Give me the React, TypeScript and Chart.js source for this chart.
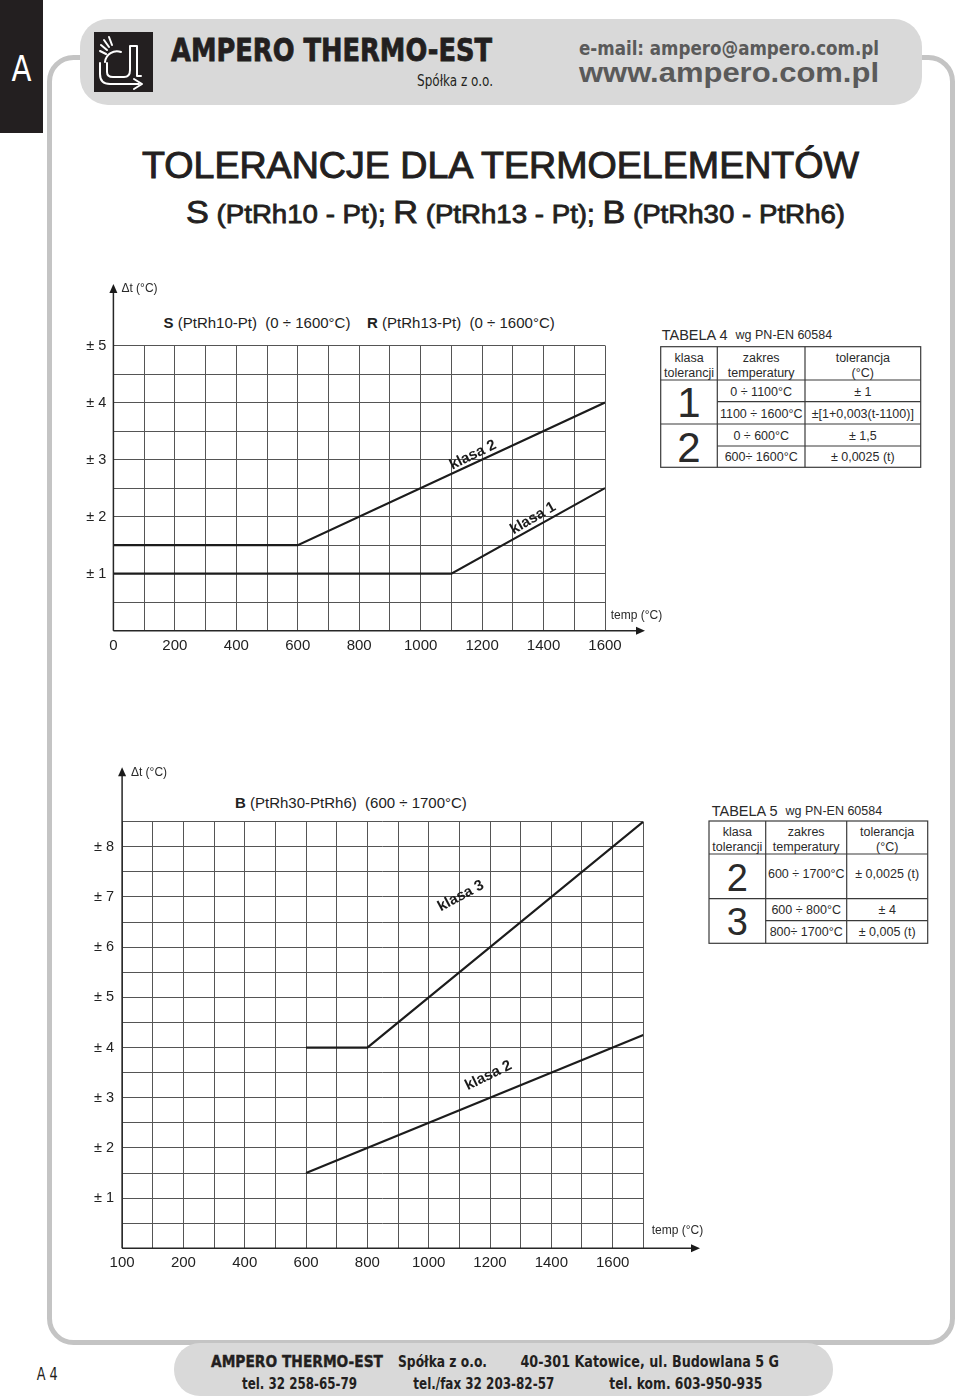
import React, { useEffect, useRef } from 'react';
import { Chart, registerables } from 'chart.js';

Chart.register(...registerables);

const FONT = '"Liberation Sans", Arial, Helvetica, sans-serif';
const NARROW = '"Liberation Sans Narrow", "Arial Narrow", "DejaVu Sans Condensed", "Liberation Sans", sans-serif';
const HEAVY = '"DejaVu Sans", "Liberation Sans", sans-serif';

// ---------- Chart 1: S (PtRh10-Pt), R (PtRh13-Pt) ----------
const srTempClass1 = [0, 1100, 1600];
const srTolClass1 = [1, 1, 2.5];
const srTempClass2 = [0, 600, 1600];
const srTolClass2 = [1.5, 1.5, 4];
const srXLabelValues = [0, 200, 400, 600, 800, 1000, 1200, 1400, 1600];
const srXLabels = ['0', '200', '400', '600', '800', '1000', '1200', '1400', '1600'];
const srYLabelValues = [1, 2, 3, 4, 5];
const srYLabels = ['± 1', '± 2', '± 3', '± 4', '± 5'];
const srCurveNames = ['klasa 2', 'klasa 1'];
const srCurveNameTemps = [1170, 1366];
const srCurveNameTols = [3.08, 1.97];

// ---------- Chart 2: B (PtRh30-PtRh6) ----------
const bTempClass3 = [600, 800, 1700];
const bTolClass3 = [4, 4, 8.5];
const bTempClass2 = [600, 1700];
const bTolClass2 = [1.5, 4.25];
const bXLabelValues = [0, 200, 400, 600, 800, 1000, 1200, 1400, 1600];
const bXLabels = ['100', '200', '400', '600', '800', '1000', '1200', '1400', '1600'];
const bYLabelValues = [1, 2, 3, 4, 5, 6, 7, 8];
const bYLabels = ['± 1', '± 2', '± 3', '± 4', '± 5', '± 6', '± 7', '± 8'];
const bCurveNames = ['klasa 3', 'klasa 2'];
const bCurveNameTemps = [1105, 1195];
const bCurveNameTols = [7.02, 3.44];

const decorPlugin = {
  id: 'decor',
  afterDraw(chart: any, _args: any, opts: any) {
    const { ctx, chartArea } = chart;
    const { left, right, top, bottom } = chartArea;
    const xs = chart.scales.x;
    const ys = chart.scales.y;
    ctx.save();
    ctx.strokeStyle = '#262626';
    ctx.lineWidth = 1.5;
    const tipX = right + opts.xExtend;
    const tipY = top - opts.yExtend;
    ctx.beginPath();
    ctx.moveTo(left, bottom);
    ctx.lineTo(tipX - 6, bottom);
    ctx.moveTo(left, bottom);
    ctx.lineTo(left, tipY + 6);
    ctx.stroke();
    ctx.fillStyle = '#1a1a1a';
    ctx.beginPath();
    ctx.moveTo(tipX, bottom);
    ctx.lineTo(tipX - 9, bottom - 4);
    ctx.lineTo(tipX - 9, bottom + 4);
    ctx.closePath();
    ctx.fill();
    ctx.beginPath();
    ctx.moveTo(left, tipY);
    ctx.lineTo(left - 4, tipY + 9);
    ctx.lineTo(left + 4, tipY + 9);
    ctx.closePath();
    ctx.fill();

    ctx.fillStyle = '#2a2a2a';
    ctx.font = '12px ' + FONT;
    ctx.textBaseline = 'middle';
    ctx.textAlign = 'left';
    ctx.fillText(opts.yTitle, left + opts.yTitleDx, tipY + opts.yTitleDy);
    ctx.fillText(opts.xTitle, right + opts.xTitleDx, bottom + opts.xTitleDy);

    ctx.font = 'bold 15px ' + FONT;
    ctx.textAlign = 'center';
    ctx.fillStyle = '#1a1a1a';
    opts.names.forEach((n: string, i: number) => {
      const px = xs.getPixelForValue(opts.nameTemps[i]);
      const py = ys.getPixelForValue(opts.nameTols[i]);
      ctx.save();
      ctx.translate(px, py);
      ctx.rotate((opts.nameAngles[i] * Math.PI) / 180);
      ctx.fillText(n, 0, 0);
      ctx.restore();
    });
    ctx.restore();
  },
};

function buildChart(canvas: HTMLCanvasElement, cfg: any) {
  return new Chart(canvas, {
    type: 'line',
    data: {
      datasets: cfg.series.map((s: any) => ({
        data: s.temps.map((t: number, i: number) => ({ x: t, y: s.tols[i] })),
        borderColor: '#1c1c1c',
        borderWidth: 2.2,
        pointRadius: 0,
        tension: 0,
        fill: false,
      })),
    },
    options: {
      responsive: false,
      animation: false,
      devicePixelRatio: 1,
      events: [],
      layout: { autoPadding: false, padding: cfg.padding },
      plugins: {
        legend: { display: false },
        tooltip: { enabled: false },
        title: { display: false },
        decor: cfg.decor,
      } as any,
      scales: {
        x: {
          type: 'linear',
          min: 0,
          max: cfg.xMax,
          afterFit: (s: any) => {
            s.height = cfg.xHeight;
            s.paddingLeft = 0;
            s.paddingRight = 0;
          },
          ticks: {
            stepSize: 100,
            autoSkip: false,
            maxRotation: 0,
            padding: 6,
            color: '#222',
            font: { family: FONT, size: 15 },
            callback: (v: any) => {
              const i = cfg.xLabelValues.indexOf(Number(v));
              return i >= 0 ? cfg.xLabels[i] : '';
            },
          },
          grid: { color: '#555', lineWidth: 1, drawTicks: false },
          border: { display: false },
        },
        y: {
          type: 'linear',
          min: 0,
          max: cfg.yMax,
          afterFit: (s: any) => {
            s.width = cfg.yWidth;
            s.paddingTop = 0;
            s.paddingBottom = 0;
          },
          ticks: {
            stepSize: 0.5,
            autoSkip: false,
            padding: cfg.yPad,
            color: '#222',
            font: { family: FONT, size: 14.5 },
            callback: (v: any) => {
              const i = cfg.yLabelValues.indexOf(Number(v));
              return i >= 0 ? cfg.yLabels[i] : '';
            },
          },
          grid: { color: '#555', lineWidth: 1, drawTicks: false },
          border: { display: false },
        },
      },
    } as any,
    plugins: [decorPlugin as any],
  });
}

const cellText = { fontFamily: FONT, fontSize: 12.5, fill: '#2a2a2a', textAnchor: 'middle' as const, dominantBaseline: 'central' as const };

export default function App() {
  const c1 = useRef<HTMLCanvasElement>(null);
  const c2 = useRef<HTMLCanvasElement>(null);

  useEffect(() => {
    const ch1 = buildChart(c1.current!, {
      series: [
        { temps: srTempClass1, tols: srTolClass1 },
        { temps: srTempClass2, tols: srTolClass2 },
      ],
      xMax: 1600,
      yMax: 5,
      padding: { left: 0, top: 75.5, right: 65, bottom: 0 },
      xHeight: 39.3,
      yWidth: 53.4,
      yPad: 7,
      xLabelValues: srXLabelValues,
      xLabels: srXLabels,
      yLabelValues: srYLabelValues,
      yLabels: srYLabels,
      decor: {
        xExtend: 40,
        yExtend: 61.5,
        yTitle: 'Δt (°C)',
        xTitle: 'temp (°C)',
        yTitleDx: 8,
        yTitleDy: 4.5,
        xTitleDx: 5.7,
        xTitleDy: -14.7,
        names: srCurveNames,
        nameTemps: srCurveNameTemps,
        nameTols: srCurveNameTols,
        nameAngles: [-26, -30],
      },
    });
    const ch2 = buildChart(c2.current!, {
      series: [
        { temps: bTempClass3, tols: bTolClass3 },
        { temps: bTempClass2, tols: bTolClass2 },
      ],
      xMax: 1700,
      yMax: 8.5,
      padding: { left: 0, top: 61.7, right: 66.7, bottom: 0 },
      xHeight: 31.7,
      yWidth: 52.1,
      yPad: 8,
      xLabelValues: bXLabelValues,
      xLabels: bXLabels,
      yLabelValues: bYLabelValues,
      yLabels: bYLabels,
      decor: {
        xExtend: 56.7,
        yExtend: 54.4,
        yTitle: 'Δt (°C)',
        xTitle: 'temp (°C)',
        yTitleDx: 8.8,
        yTitleDy: 5.4,
        xTitleDx: 8.4,
        xTitleDy: -17.6,
        names: bCurveNames,
        nameTemps: bCurveNameTemps,
        nameTols: bCurveNameTols,
        nameAngles: [-28, -26],
      },
    });
    return () => {
      ch1.destroy();
      ch2.destroy();
    };
  }, []);

  return (
    <div style={{ position: 'absolute', left: 0, top: 0, width: 960, height: 1396, background: '#fff', overflow: 'hidden' }}>
      <svg width={960} height={1396} style={{ position: 'absolute', left: 0, top: 0 }}>
        {/* page frame */}
        <rect x={49.5} y={57.5} width={903} height={1285} rx={24} fill="none" stroke="#c4c4c4" strokeWidth={5} />
        {/* side tab */}
        <rect x={0} y={0} width={43} height={133} fill="#231f20" />
        <text x={21.5} y={81} fill="#fff" fontFamily={NARROW} fontSize={36} textAnchor="middle" textLength={20} lengthAdjust="spacingAndGlyphs">A</text>

        {/* header bar */}
        <rect x={80} y={19} width={842} height={86} rx={28} fill="#d9d9d9" />
        <rect x={94} y={32} width={59} height={60} fill="#231f20" />
        <g stroke="#fff" strokeWidth={2} fill="none" strokeLinecap="round" strokeLinejoin="round">
          <line x1={101} y1={45} x2={107} y2={50} />
          <line x1={104} y1={40} x2={109} y2={47} />
          <line x1={109} y1={37} x2={112} y2={45} />
          <line x1={100} y1={51} x2={106} y2={54} />
          <path d="M105 62 A 12 12 0 0 1 121 52" />
          <path d="M100 63 L100 74 Q100 84 110 84 L139 84" />
          <path d="M134 79 L142 84 L134 89" />
          <path d="M107 63 L107 72 Q107 77 113 77 L124 77 Q130 77 130 70 L130 46 L137 46 L137 76 L141 76" />
        </g>
        <text x={171} y={61} fontFamily={HEAVY} fontWeight="bold" fontSize={32} fill="#231f20" stroke="#231f20" strokeWidth={0.8}
          textLength={321} lengthAdjust="spacingAndGlyphs">AMPERO THERMO-EST</text>
        <text x={417} y={85.5} fontFamily={NARROW} fontSize={15} fill="#231f20" textLength={76} lengthAdjust="spacingAndGlyphs">Spółka z o.o.</text>
        <text x={579} y={54.5} fontFamily={NARROW} fontWeight="bold" fontSize={20} fill="#5a5a5a" textLength={300} lengthAdjust="spacingAndGlyphs">e-mail: ampero@ampero.com.pl</text>
        <text x={579} y={81.5} fontFamily={FONT} fontWeight="bold" fontSize={28} fill="#5a5a5a" textLength={300} lengthAdjust="spacingAndGlyphs">www.ampero.com.pl</text>

        {/* main title */}
        <text x={142} y={178} fontFamily={FONT} fontSize={37} fill="#231f20" stroke="#231f20" strokeWidth={1}
          textLength={717} lengthAdjust="spacingAndGlyphs">TOLERANCJE DLA TERMOELEMENTÓW</text>
        <text x={186} y={223} fontFamily={FONT} fill="#231f20" stroke="#231f20" strokeWidth={0.8} textLength={659} lengthAdjust="spacingAndGlyphs" style={{ whiteSpace: 'pre' }}>
          <tspan fontSize={31}>S</tspan>
          <tspan fontSize={25}> (PtRh10 - Pt); </tspan>
          <tspan fontSize={31}>R</tspan>
          <tspan fontSize={25}> (PtRh13 - Pt); </tspan>
          <tspan fontSize={31}>B</tspan>
          <tspan fontSize={25}> (PtRh30 - PtRh6)</tspan>
        </text>

        {/* chart titles */}
        <text x={163.6} y={321.5} fontFamily={FONT} fontSize={15} fill="#222" dominantBaseline="central" style={{ whiteSpace: 'pre' }}>
          <tspan fontWeight="bold">S</tspan>
          <tspan> (PtRh10-Pt)  (0 ÷ 1600°C)    </tspan>
          <tspan fontWeight="bold">R</tspan>
          <tspan> (PtRh13-Pt)  (0 ÷ 1600°C)</tspan>
        </text>
        <text x={235} y={801.5} fontFamily={FONT} fontSize={15} fill="#222" dominantBaseline="central" style={{ whiteSpace: 'pre' }}>
          <tspan fontWeight="bold">B</tspan>
          <tspan> (PtRh30-PtRh6)  (600 ÷ 1700°C)</tspan>
        </text>

        {/* TABELA 4 */}
        <text x={661.7} y={335} fontFamily={FONT} fill="#2a2a2a" dominantBaseline="central" style={{ whiteSpace: 'pre' }}>
          <tspan fontSize={14.5}>TABELA 4  </tspan>
          <tspan fontSize={12.5}>wg PN-EN 60584</tspan>
        </text>
        <g stroke="#3a3a3a" strokeWidth={1.2} fill="none">
          <rect x={660.7} y={346.7} width={260} height={120.6} />
          <line x1={717.3} y1={346.7} x2={717.3} y2={467.3} />
          <line x1={805} y1={346.7} x2={805} y2={467.3} />
          <line x1={660.7} y1={380} x2={920.7} y2={380} />
          <line x1={717.3} y1={401.7} x2={920.7} y2={401.7} />
          <line x1={660.7} y1={424} x2={920.7} y2={424} />
          <line x1={717.3} y1={446} x2={920.7} y2={446} />
        </g>
        <text x={689} y={358.3} {...cellText}>klasa</text>
        <text x={689} y={372.8} {...cellText}>tolerancji</text>
        <text x={761.2} y={358.3} {...cellText}>zakres</text>
        <text x={761.2} y={372.8} {...cellText}>temperatury</text>
        <text x={862.8} y={358.3} {...cellText}>tolerancja</text>
        <text x={862.8} y={372.8} {...cellText}>(°C)</text>
        <text x={689} y={402} {...cellText} fontSize={42}>1</text>
        <text x={689} y={447} {...cellText} fontSize={42}>2</text>
        <text x={761.2} y={391.5} {...cellText}>0 ÷ 1100°C</text>
        <text x={862.8} y={391.5} {...cellText}>± 1</text>
        <text x={761.2} y={414} {...cellText}>1100 ÷ 1600°C</text>
        <text x={862.8} y={414} {...cellText}>±[1+0,003(t-1100)]</text>
        <text x={761.2} y={435.5} {...cellText}>0 ÷ 600°C</text>
        <text x={862.8} y={435.5} {...cellText}>± 1,5</text>
        <text x={761.2} y={457} {...cellText}>600÷ 1600°C</text>
        <text x={862.8} y={457} {...cellText}>± 0,0025 (t)</text>

        {/* TABELA 5 */}
        <text x={711.7} y={811} fontFamily={FONT} fill="#2a2a2a" dominantBaseline="central" style={{ whiteSpace: 'pre' }}>
          <tspan fontSize={14.5}>TABELA 5  </tspan>
          <tspan fontSize={12.5}>wg PN-EN 60584</tspan>
        </text>
        <g stroke="#3a3a3a" strokeWidth={1.2} fill="none">
          <rect x={709} y={821} width={218.7} height={122.3} />
          <line x1={765.7} y1={821} x2={765.7} y2={943.3} />
          <line x1={846.7} y1={821} x2={846.7} y2={943.3} />
          <line x1={709} y1={854} x2={927.7} y2={854} />
          <line x1={709} y1={898.7} x2={927.7} y2={898.7} />
          <line x1={765.7} y1={920.7} x2={927.7} y2={920.7} />
        </g>
        <text x={737.3} y={832.3} {...cellText}>klasa</text>
        <text x={737.3} y={846.5} {...cellText}>tolerancji</text>
        <text x={806.2} y={832.3} {...cellText}>zakres</text>
        <text x={806.2} y={846.5} {...cellText}>temperatury</text>
        <text x={887.2} y={832.3} {...cellText}>tolerancja</text>
        <text x={887.2} y={846.5} {...cellText}>(°C)</text>
        <text x={737.3} y={877.5} {...cellText} fontSize={38}>2</text>
        <text x={737.3} y={922} {...cellText} fontSize={38}>3</text>
        <text x={806.2} y={874} {...cellText}>600 ÷ 1700°C</text>
        <text x={887.2} y={874} {...cellText}>± 0,0025 (t)</text>
        <text x={806.2} y={910} {...cellText}>600 ÷ 800°C</text>
        <text x={887.2} y={910} {...cellText}>± 4</text>
        <text x={806.2} y={931.7} {...cellText}>800÷ 1700°C</text>
        <text x={887.2} y={931.7} {...cellText}>± 0,005 (t)</text>

        {/* footer */}
        <text x={36.7} y={1380} fontFamily={NARROW} fontSize={18} fill="#231f20" textLength={21} lengthAdjust="spacingAndGlyphs">A 4</text>
        <rect x={174} y={1343} width={659} height={53} rx={26} fill="#d9d9d9" />
        <text x={211} y={1367} fontFamily={HEAVY} fontWeight="bold" fontSize={16} fill="#231f20" stroke="#231f20" strokeWidth={0.4}
          textLength={172} lengthAdjust="spacingAndGlyphs">AMPERO THERMO-EST</text>
        <text x={398} y={1367} fontFamily={NARROW} fontWeight="bold" fontSize={16} fill="#231f20" textLength={89} lengthAdjust="spacingAndGlyphs">Spółka z o.o.</text>
        <text x={520.5} y={1367} fontFamily={NARROW} fontWeight="bold" fontSize={16} fill="#231f20" textLength={258.5} lengthAdjust="spacingAndGlyphs">40-301 Katowice, ul. Budowlana 5 G</text>
        <text x={242} y={1389} fontFamily={NARROW} fontWeight="bold" fontSize={16} fill="#231f20" textLength={115} lengthAdjust="spacingAndGlyphs">tel. 32 258-65-79</text>
        <text x={413.3} y={1389} fontFamily={NARROW} fontWeight="bold" fontSize={16} fill="#231f20" textLength={141} lengthAdjust="spacingAndGlyphs">tel./fax 32 203-82-57</text>
        <text x={609.3} y={1389} fontFamily={NARROW} fontWeight="bold" fontSize={16} fill="#231f20" textLength={153} lengthAdjust="spacingAndGlyphs">tel. kom. 603-950-935</text>
      </svg>
      <canvas ref={c1} width={610} height={400} style={{ position: 'absolute', left: 60, top: 270, width: 610, height: 400 }} />
      <canvas ref={c2} width={640} height={520} style={{ position: 'absolute', left: 70, top: 760, width: 640, height: 520 }} />
    </div>
  );
}
